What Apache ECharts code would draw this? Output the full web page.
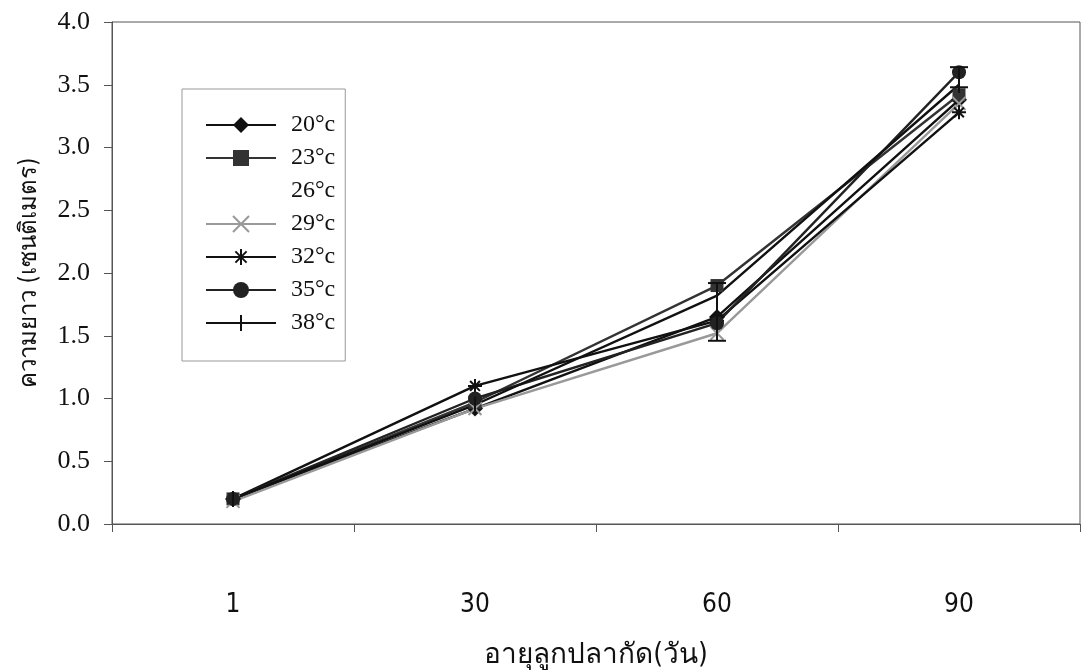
<!DOCTYPE html>
<html>
<head>
<meta charset="utf-8">
<script src="https://cdn.jsdelivr.net/npm/echarts@6/dist/echarts.min.js"></script>
<style>
html,body{margin:0;padding:0;background:#fff;}
#c{width:1082px;height:670px;}
</style>
</head>
<body>
<div id="c"></div>
<script>
const categories = ['1', '30', '60', '90'];
const seriesNames = ['20°c', '23°c', '26°c', '29°c', '32°c', '35°c', '38°c'];
const s20 = [0.20, 0.92, 1.65, 3.38];
const s23 = [0.20, 0.97, 1.90, 3.42];
const s26 = [];
const s29 = [0.18, 0.92, 1.52, 3.35];
const s32 = [0.20, 1.10, 1.62, 3.28];
const s35 = [0.20, 1.00, 1.60, 3.60];
const s38 = [0.20, 0.95, 1.82, 3.50];
// error bars: [categoryIndex, low, high]
const errorBars = [[2, 1.46, 1.92], [3, 3.48, 3.64]];
const yTicks = [0, 0.5, 1, 1.5, 2, 2.5, 3, 3.5, 4];

const serif = "'Liberation Serif','Times New Roman',serif";
const thai = "'Liberation Sans Narrow','DejaVu Sans Condensed','Noto Sans','DejaVu Sans',sans-serif";

const asterisk = 'path://M0,5 L10,5 M5,0 L5,10 M1.5,1.5 L8.5,8.5 M8.5,1.5 L1.5,8.5';
const cross = 'path://M0,0 L10,10 M10,0 L0,10';
const vtick = 'path://M5,0 L5,10 M0,5 L0.01,5 M10,5 L9.99,5';

function mk(name, data, symbol, color, size, stroke) {
  return {
    name: name, type: 'line', data: data,
    symbol: symbol, symbolSize: size,
    lineStyle: {color: color, width: 2.4},
    itemStyle: {color: stroke ? 'none' : color, borderColor: color, borderWidth: stroke ? 2 : 0},
    emphasis: {disabled: true},
    z: 3
  };
}

const chart = echarts.init(document.getElementById('c'));
chart.setOption({
  animation: false,
  backgroundColor: '#fff',
  grid: {left: 112, right: 2, top: 22, bottom: 146, show: true, borderColor: '#555', borderWidth: 1,
         outerBoundsMode: 'none', containLabel: false},
  legend: {
    orient: 'vertical', left: 182, top: 89,
    padding: [24, 10, 26, 23],
    itemWidth: 70, itemHeight: 20, itemGap: 9,
    borderColor: '#999', borderWidth: 1,
    textStyle: {fontFamily: serif, fontSize: 24, color: '#111', padding: [0, 0, 0, 10]},
    data: [
      {name: '20°c'}, {name: '23°c'}, {name: '26°c', icon: 'none'},
      {name: '29°c'}, {name: '32°c'}, {name: '35°c'}, {name: '38°c'}
    ]
  },
  xAxis: {
    type: 'category', data: categories, boundaryGap: true,
    axisLine: {lineStyle: {color: '#555', width: 1}},
    axisTick: {show: true, alignWithLabel: false, length: 8, lineStyle: {color: '#555'}},
    axisLabel: {margin: 68, fontFamily: thai, fontSize: 26, color: '#111'},
    name: 'อายุลูกปลากัด(วัน)', nameLocation: 'middle', nameGap: 118,
    nameTextStyle: {fontFamily: thai, fontSize: 28, color: '#111'}
  },
  yAxis: {
    type: 'value', min: 0, max: 4, interval: 0.5,
    axisLine: {show: true, lineStyle: {color: '#555', width: 1}},
    axisTick: {show: true, inside: false, length: 8, lineStyle: {color: '#555'}},
    splitLine: {show: false},
    axisLabel: {margin: 22, fontFamily: serif, fontSize: 26, color: '#111',
      formatter: v => yTicks.includes(v) ? v.toFixed(1) : ''},
    name: 'ความยาว (เซนติเมตร)', nameLocation: 'middle', nameGap: 70, nameRotate: 90,
    nameTextStyle: {fontFamily: thai, fontSize: 24, color: '#111'}
  },
  series: [
    mk('20°c', s20, 'diamond', '#111', 16, false),
    mk('23°c', s23, 'rect', '#333', 13, false),
    {name: '26°c', type: 'line', data: s26, symbol: 'none', lineStyle: {opacity: 0}, itemStyle: {opacity: 0}},
    mk('29°c', s29, cross, '#999', 13, true),
    mk('32°c', s32, asterisk, '#111', 14, true),
    mk('35°c', s35, 'circle', '#222', 14, false),
    mk('38°c', s38, vtick, '#111', 16, true),
    {
      type: 'custom', name: 'err', data: errorBars, z: 4,
      renderItem: function (params, api) {
        const x = api.coord([api.value(0), api.value(1)])[0];
        const lo = api.coord([api.value(0), api.value(1)])[1];
        const hi = api.coord([api.value(0), api.value(2)])[1];
        const w = 9;
        const st = {stroke: '#111', lineWidth: 2};
        return {type: 'group', children: [
          {type: 'line', shape: {x1: x, y1: lo, x2: x, y2: hi}, style: st},
          {type: 'line', shape: {x1: x - w, y1: lo, x2: x + w, y2: lo}, style: st},
          {type: 'line', shape: {x1: x - w, y1: hi, x2: x + w, y2: hi}, style: st}
        ]};
      }
    }
  ]
});
</script>
</body>
</html>
